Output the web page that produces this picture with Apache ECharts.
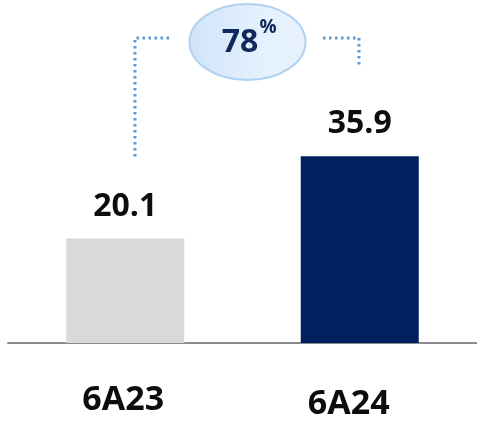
<!DOCTYPE html>
<html>
<head>
<meta charset="utf-8">
<script src="https://cdn.jsdelivr.net/npm/echarts@6/dist/echarts.min.js"></script>
<style>
  html, body { margin: 0; padding: 0; background: #ffffff; }
  #chart { width: 477px; height: 422px; }
</style>
</head>
<body>
<div id="chart"></div>
<script>
// Period labels and values
const categories = ['6A23', '6A24'];
const values = [20.1, 35.9];
const barColors = ['#d9d9d9', '#02205e'];
const growthText = '78';
const growthUnit = '%';

const FONT = '"Open Sans", "Liberation Sans", sans-serif';
const chart = echarts.init(document.getElementById('chart'), null, { renderer: 'canvas' });

const dotted = { stroke: '#5b9bd5', lineWidth: 3, lineDash: [2.5, 3.5] };

chart.setOption({
  animation: false,
  grid: { left: 8, top: 83, width: 473, height: 260, containLabel: false },
  xAxis: {
    type: 'category',
    data: categories,
    axisLine: { lineStyle: { color: '#8c8c8c', width: 2 } },
    axisTick: { show: false },
    axisLabel: {
      margin: 40,
      formatter: (v, i) => i === 0 ? '{a|' + v + '}' : '{b|' + v + '}',
      rich: {
        a: { fontFamily: FONT, fontWeight: 'bold', fontSize: 34, color: '#0d0d0d', padding: [0, 4, 0, 0] },
        b: { fontFamily: FONT, fontWeight: 'bold', fontSize: 34, color: '#0d0d0d', padding: [4, 22, 0, 0] }
      }
    }
  },
  yAxis: {
    type: 'value', min: 0, max: 50, show: false,
    splitLine: { show: false }
  },
  series: [{
    type: 'bar',
    barWidth: 118,
    data: values.map((v, i) => ({ value: v, itemStyle: { color: barColors[i] } })),
    label: {
      show: true,
      position: 'top',
      distance: 16,
      fontFamily: FONT,
      fontWeight: 'bold',
      fontSize: 32,
      color: '#0d0d0d',
      formatter: p => p.value.toFixed(1)
    }
  }],
  graphic: [
    // dotted bracket, left arm
    { type: 'polyline', shape: { points: [[169, 38], [135, 38], [135, 159]] }, style: Object.assign({ fill: null }, dotted), z: 10 },
    // dotted bracket, right arm
    { type: 'polyline', shape: { points: [[323, 38], [359, 38], [359, 67]] }, style: Object.assign({ fill: null }, dotted), z: 10 },
    // growth bubble
    {
      type: 'ellipse',
      shape: { cx: 247.5, cy: 42, rx: 58, ry: 38 },
      style: {
        fill: new echarts.graphic.LinearGradient(0, 0, 1, 0, [
          { offset: 0, color: '#d0e4fa' },
          { offset: 0.6, color: '#e4f0fd' },
          { offset: 1, color: '#e7f2fd' }
        ]),
        stroke: '#b0d2f2',
        lineWidth: 2
      },
      z: 11
    },
    {
      type: 'text',
      x: 240, y: 43,
      style: { text: growthText, fontFamily: FONT, fontWeight: 'bold', fontSize: 32, fill: '#0f2a5a', align: 'center', verticalAlign: 'middle' },
      z: 12
    },
    {
      type: 'text',
      x: 268, y: 28,
      style: { text: growthUnit, fontFamily: FONT, fontWeight: 'bold', fontSize: 19, fill: '#0f2a5a', align: 'center', verticalAlign: 'middle' },
      z: 12
    }
  ]
});
</script>
</body>
</html>
